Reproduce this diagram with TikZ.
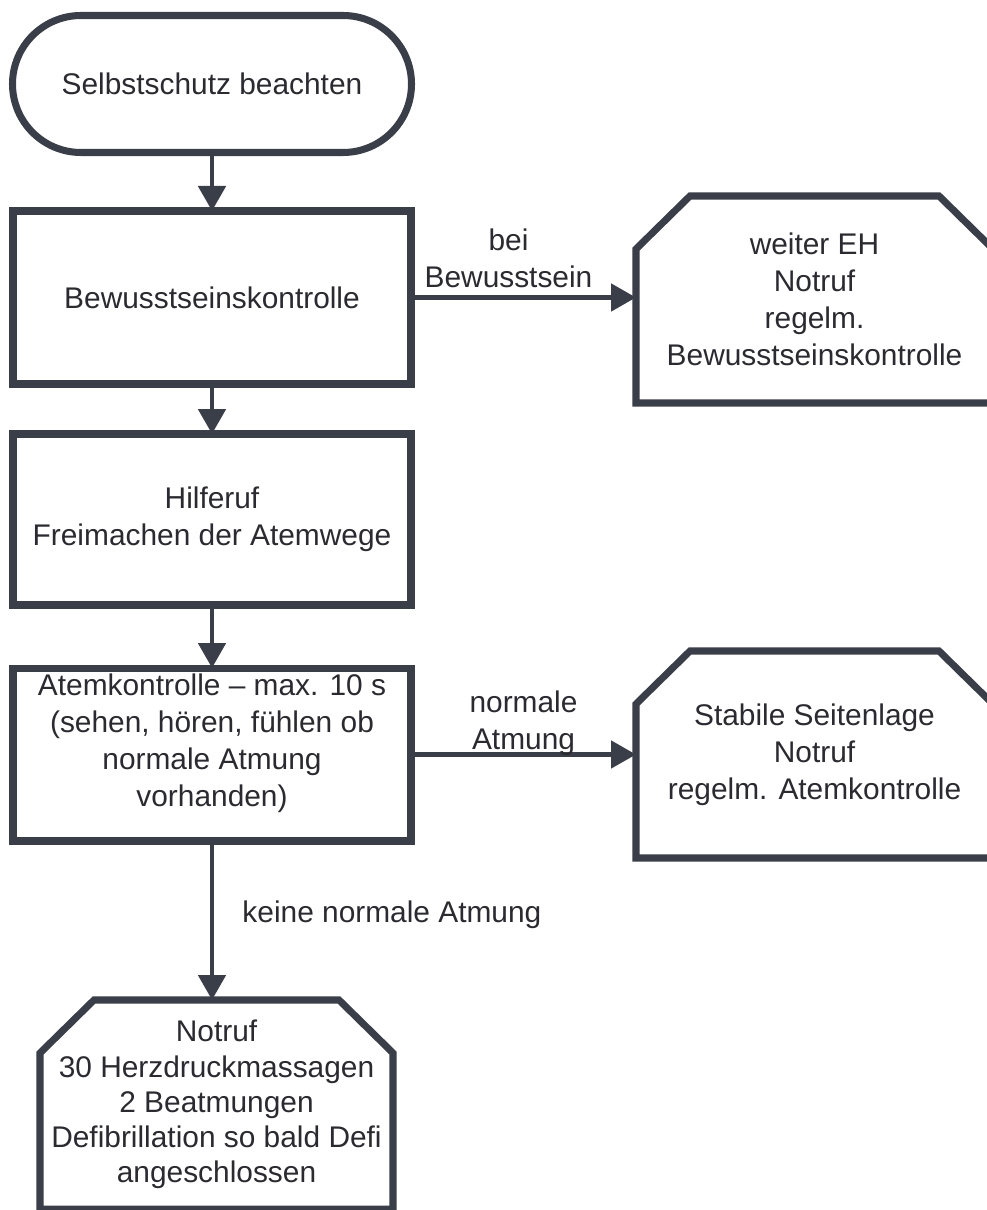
\documentclass[tikz,border=0pt]{standalone}
\usepackage{fontspec}
\setmainfont{Liberation Sans}
\usetikzlibrary{arrows.meta}
\usetikzlibrary{positioning}

\definecolor{framegray}{RGB}{58,62,72}
\definecolor{inkgray}{RGB}{42,42,48}

\tikzset{
  every node/.style={text=inkgray, font=\fontsize{17}{21}\selectfont},
  frame/.style={draw=framegray, line width=4pt, line join=miter},
  startbox/.style={frame, rectangle, rounded corners=1.37cm, minimum width=7.98cm, minimum height=2.74cm, outer sep=0pt},
  stepbox/.style={frame, rectangle, minimum width=7.96cm, minimum height=3.42cm, align=center, outer sep=0pt},
  endbox/.style={rectangle, minimum width=7.14cm, minimum height=4.14cm, align=center, inner sep=0pt, outer sep=0pt},
  flow/.style={draw=framegray, line width=2.8pt, -{Triangle[width=0.54cm,length=0.5cm]}},
  flowlabel/.style={inner sep=0pt, align=center},
}

\begin{document}
\begin{tikzpicture}
\useasboundingbox (0,0) rectangle (19.72,-24.2);

% left column
\node[startbox] (start) at (4.24,-1.68) {Selbstschutz beachten};
\node[stepbox, minimum height=3.46cm] (bk) at (4.24,-5.95) {Bewusstseinskontrolle};
\node[stepbox] (hr) at (4.24,-10.39) {Hilferuf\\Freimachen der Atemwege};
\node[stepbox] (ak) at (4.24,-15.09) {Atemkontrolle -- max. 10 s\\(sehen, hören, fühlen ob\\normale Atmung\\vorhanden)\\[-0.16cm] \mbox{}};

% end boxes
\node[endbox] (eh) at (16.29,-5.99) {weiter EH\\Notruf\\regelm.\\Bewusstseinskontrolle};
\node[endbox] (ssl) at (16.29,-15.09) {Stabile Seitenlage\\Notruf\\regelm. Atemkontrolle};
\node[endbox, minimum width=7.06cm, minimum height=4.18cm, font=\fontsize{17}{20}\selectfont] (cpr) at (4.33,-22.09) {Notruf\\30 Herzdruckmassagen\\2 Beatmungen\\Defibrillation so bald Defi\\angeschlossen};

\foreach \n in {eh,ssl,cpr}
  \draw[frame] ([yshift=-1.06cm]\n.north west) -- ([xshift=1.08cm]\n.north west)
    -- ([xshift=-1.08cm]\n.north east) -- ([yshift=-1.06cm]\n.north east)
    -- (\n.south east) -- (\n.south west) -- cycle;

% connectors
\draw[flow] (start) -- (bk);
\draw[flow] (bk) -- (hr);
\draw[flow] (hr) -- (ak);
\draw[flow] (bk.east) -- node[flowlabel, above=0.15cm, xshift=-0.3cm] {bei\\Bewusstsein} (bk.east -| eh.west);
\draw[flow] (ak.east) -- node[flowlabel, above=-0.07cm] {normale\\Atmung} (ak.east -| ssl.west);
\draw[flow] (ak.south) -- node[flowlabel, anchor=base west, xshift=0.56cm, yshift=-0.04cm] {keine normale Atmung} (ak.south |- cpr.north);
\end{tikzpicture}
\end{document}
